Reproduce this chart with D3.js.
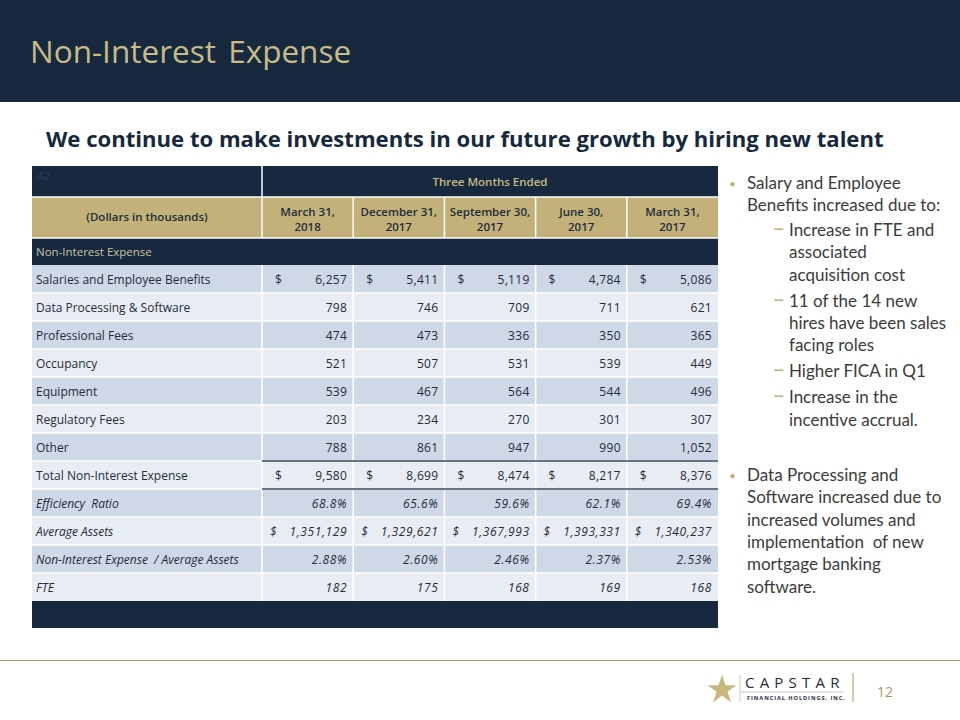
<!DOCTYPE html>
<html><head><meta charset="utf-8">
<script src="https://cdn.jsdelivr.net/npm/d3@7"></script>
<style>body{margin:0;background:#fff}svg{display:block}</style>
</head><body><svg id="c" width="960" height="720"></svg>
<script>
// ---------- data ----------
const periodLine1 = ["March 31,", "December 31,", "September 30,", "June 30,", "March 31,"];
const periodLine2 = ["2018", "2017", "2017", "2017", "2017"];
const rowLabels = ["Salaries and Employee Benefits", "Data Processing & Software", "Professional Fees", "Occupancy", "Equipment", "Regulatory Fees", "Other", "Total Non-Interest Expense", "Efficiency  Ratio", "Average Assets", "Non-Interest Expense  / Average Assets", "FTE"];
const salaries = [6257, 5411, 5119, 4784, 5086];
const dataProcessing = [798, 746, 709, 711, 621];
const professionalFees = [474, 473, 336, 350, 365];
const occupancy = [521, 507, 531, 539, 449];
const equipment = [539, 467, 564, 544, 496];
const regulatoryFees = [203, 234, 270, 301, 307];
const other = [788, 861, 947, 990, 1052];
const totalExpense = [9580, 8699, 8474, 8217, 8376];
const efficiencyRatio = [68.8, 65.6, 59.6, 62.1, 69.4];
const averageAssets = [1351129, 1329621, 1367993, 1393331, 1340237];
const expenseToAssets = [2.88, 2.60, 2.46, 2.37, 2.53];
const fte = [182, 175, 168, 169, 168];
const bullet1 = ["Salary and Employee", "Benefits increased due to:"];
const subItems = [["Increase in FTE and", "associated", "acquisition cost"], ["11 of the 14 new", "hires have been sales", "facing roles"], ["Higher FICA in Q1"], ["Increase in the", "incentive accrual."]];
const bullet2 = ["Data Processing and", "Software increased due to", "increased volumes and", "implementation  of new", "mortgage banking", "software."];

// ---------- styles ----------
const NAVY = "#16293f", GOLD = "#c2b27a", GOLDTXT = "#c8bb86";
const ROW_A = "#cfd8e6", ROW_B = "#e8edf4", INK = "#1f2c3b";
const TFONT = "'Open Sans', sans-serif";
const FONT = "Lato, 'Open Sans', sans-serif";

const svg = d3.select("#c");

// header band
svg.append("rect").attr("x", 0).attr("y", 0).attr("width", 960).attr("height", 102).attr("fill", NAVY);
svg.append("text").attr("x", 30).attr("y", 63).text("Non-Interest Expense")
  .attr("font-family", TFONT).attr("font-size", 31.5).attr("fill", GOLDTXT).attr("word-spacing", 4);

svg.append("text").attr("x", 46).attr("y", 147).text("We continue to make investments in our future growth by hiring new talent")
  .attr("font-family", TFONT).attr("font-weight", 700).attr("font-size", 22.1).attr("fill", "#16283d");

// ---------- table ----------
const rowsSpec = [
  {v: salaries, fmt: "d", dollar: true},
  {v: dataProcessing, fmt: "d"},
  {v: professionalFees, fmt: "d"},
  {v: occupancy, fmt: "d"},
  {v: equipment, fmt: "d"},
  {v: regulatoryFees, fmt: "d"},
  {v: other, fmt: "d"},
  {v: totalExpense, fmt: "d", dollar: true, total: true},
  {v: efficiencyRatio, fmt: "p1", italic: true},
  {v: averageAssets, fmt: "d", dollar: true, italic: true},
  {v: expenseToAssets, fmt: "p2", italic: true},
  {v: fte, fmt: "d", italic: true}
].map((r, i) => ({...r, label: rowLabels[i], i}));

const fmtMap = {
  d: d3.format(","),
  p1: v => d3.format(".1f")(v) + "%",
  p2: v => d3.format(".2f")(v) + "%"
};

const TX0 = 32, TX1 = 718, LBL = 262, TS = 12, HS = 11.5;
const x = d3.scaleBand().domain(d3.range(5)).range([LBL, TX1]);
const y = d3.scaleBand().domain(d3.range(rowsSpec.length)).range([265, 601]);

// top dark row, header gold row, section dark row, footer
svg.append("rect").attr("x", TX0).attr("y", 166).attr("width", TX1 - TX0).attr("height", 31).attr("fill", NAVY);
svg.append("rect").attr("x", TX0).attr("y", 197).attr("width", TX1 - TX0).attr("height", 41).attr("fill", GOLD);
svg.append("rect").attr("x", TX0).attr("y", 238).attr("width", TX1 - TX0).attr("height", 27).attr("fill", NAVY);
svg.append("rect").attr("x", TX0).attr("y", 601).attr("width", TX1 - TX0).attr("height", 27).attr("fill", NAVY);

svg.append("text").attr("x", 37).attr("y", 180).text("42").attr("font-family", TFONT).attr("font-size", HS).attr("fill", "#2b4058");
svg.append("text").attr("x", (LBL + TX1) / 2).attr("y", 186).attr("text-anchor", "middle").text("Three Months Ended")
  .attr("font-family", TFONT).attr("font-weight", 600).attr("font-size", HS).attr("fill", GOLDTXT);

svg.append("text").attr("x", (TX0 + LBL) / 2).attr("y", 221).attr("text-anchor", "middle").text("(Dollars in thousands)")
  .attr("font-family", TFONT).attr("font-weight", 600).attr("font-size", HS).attr("fill", INK);

const hdr = svg.append("g").selectAll("text").data(d3.range(5)).join("text")
  .attr("x", i => x(i) + x.bandwidth() / 2).attr("text-anchor", "middle")
  .attr("font-family", TFONT).attr("font-weight", 600).attr("font-size", HS).attr("fill", INK);
hdr.append("tspan").attr("x", i => x(i) + x.bandwidth() / 2).attr("y", 216).text(i => periodLine1[i]);
hdr.append("tspan").attr("x", i => x(i) + x.bandwidth() / 2).attr("y", 231).text(i => periodLine2[i]);

svg.append("text").attr("x", 36).attr("y", 256).text("Non-Interest Expense")
  .attr("font-family", TFONT).attr("font-size", HS).attr("fill", "#cbc3a0");

// data rows
const rowG = svg.append("g").selectAll("g").data(rowsSpec).join("g")
  .attr("transform", d => `translate(0,${y(d.i)})`);
rowG.append("rect").attr("x", TX0).attr("y", 0).attr("width", TX1 - TX0).attr("height", y.bandwidth())
  .attr("fill", d => d.i % 2 === 0 ? ROW_A : ROW_B);
rowG.append("text").attr("x", 36).attr("y", y.bandwidth() / 2 + 5).text(d => d.label)
  .attr("font-family", TFONT).attr("font-size", TS).attr("font-style", d => d.italic ? "italic" : "normal").attr("fill", INK)
  .style("white-space", "pre");

rowG.each(function(d) {
  const g = d3.select(this);
  g.selectAll("text.val").data(d.v.map((v, j) => ({v, j}))).join("text").attr("class", "val")
    .attr("x", c => x(c.j) + x.bandwidth() - 6).attr("y", y.bandwidth() / 2 + 5).attr("text-anchor", "end")
    .text(c => fmtMap[d.fmt](c.v))
    .attr("letter-spacing", d.italic ? 0.6 : 0.3)
    .attr("font-family", TFONT).attr("font-size", TS).attr("font-style", d.italic ? "italic" : "normal").attr("fill", INK);
  if (d.dollar) {
    g.selectAll("text.dol").data(d.v.map((v, j) => j)).join("text").attr("class", "dol")
      .attr("x", j => x(j) + (d.italic ? 8 : 13)).attr("y", y.bandwidth() / 2 + 5).text("$")
      .attr("font-family", TFONT).attr("font-size", TS).attr("font-style", d.italic ? "italic" : "normal").attr("fill", INK);
  }
});

// grid lines (white)
const grid = svg.append("g").attr("stroke", "#ffffff").attr("stroke-width", 1.5);
grid.append("line").attr("x1", TX0).attr("x2", TX1).attr("y1", 197).attr("y2", 197);
grid.append("line").attr("x1", TX0).attr("x2", TX1).attr("y1", 238).attr("y2", 238);
grid.append("line").attr("x1", LBL).attr("x2", LBL).attr("y1", 166).attr("y2", 238);
grid.selectAll("line.hv").data(d3.range(1, 5)).join("line").attr("class", "hv")
  .attr("x1", j => x(j)).attr("x2", j => x(j)).attr("y1", 197).attr("y2", 238);
grid.selectAll("line.dv").data(d3.range(0, 5)).join("line").attr("class", "dv")
  .attr("x1", j => x(j)).attr("x2", j => x(j)).attr("y1", 265).attr("y2", 601);
grid.selectAll("line.dh").data(d3.range(1, rowsSpec.length)).join("line").attr("class", "dh")
  .attr("x1", TX0).attr("x2", TX1).attr("y1", i => y(i)).attr("y2", i => y(i));

// total row rules
const tot = rowsSpec.find(r => r.total);
svg.append("g").attr("stroke", "#6b7480").attr("stroke-width", 2)
  .selectAll("line").data([y(tot.i), y(tot.i) + y.bandwidth()]).join("line")
  .attr("x1", LBL).attr("x2", TX1).attr("y1", v => v).attr("y2", v => v);

// ---------- right commentary ----------
const RS = 17, RC = "#3b3b3b";
const rt = svg.append("g").attr("font-family", FONT).attr("font-size", RS).attr("fill", RC);
rt.append("text").attr("x", 729).attr("y", 188).text("•").attr("fill", GOLD).attr("font-size", 12);
bullet1.forEach((t, k) => rt.append("text").attr("x", 747).attr("y", 189 + k * 22.3).text(t));
let yy = 236;
subItems.forEach(item => {
  rt.append("text").attr("x", 772).attr("y", yy).text("–").attr("fill", GOLD).attr("font-size", 23);
  item.forEach((t, k) => rt.append("text").attr("x", 789).attr("y", yy + k * 22.3).text(t));
  yy += item.length * 22.3 + 3.7;
});
rt.append("text").attr("x", 729).attr("y", 480).text("•").attr("fill", GOLD).attr("font-size", 12);
bullet2.forEach((t, k) => rt.append("text").attr("x", 747).attr("y", 481 + k * 22.3).text(t)
  .style("white-space", "pre"));

// ---------- footer ----------
svg.append("line").attr("x1", 0).attr("x2", 960).attr("y1", 660.5).attr("y2", 660.5).attr("stroke", "#a8976a").attr("stroke-width", 1.2);
svg.append("path").attr("d", d3.symbol(d3.symbolStar, 260)()).attr("transform", "translate(722,690)").attr("fill", "#c9b782");
svg.append("line").attr("x1", 740).attr("x2", 740).attr("y1", 675).attr("y2", 702).attr("stroke", "#c8c8c8");
svg.append("text").attr("x", 745).attr("y", 688).text("CAPSTAR").attr("font-family", TFONT)
  .attr("font-size", 15).attr("letter-spacing", 5.2).attr("fill", "#1d2b3c");
svg.append("line").attr("x1", 741).attr("x2", 844).attr("y1", 692).attr("y2", 692).attr("stroke", "#c8c8c8");
svg.append("text").attr("x", 747).attr("y", 700).text("FINANCIAL HOLDINGS, INC.").attr("font-family", TFONT)
  .attr("font-weight", 700).attr("font-size", 5.6).attr("letter-spacing", 0.95).attr("fill", "#1d2b3c");
svg.append("line").attr("x1", 853).attr("x2", 853).attr("y1", 673).attr("y2", 702).attr("stroke", "#b9a97c").attr("stroke-width", 1.2);
svg.append("text").attr("x", 877).attr("y", 697).text("12").attr("font-family", TFONT)
  .attr("font-size", 14).attr("fill", "#a8996a");
</script></body></html>
